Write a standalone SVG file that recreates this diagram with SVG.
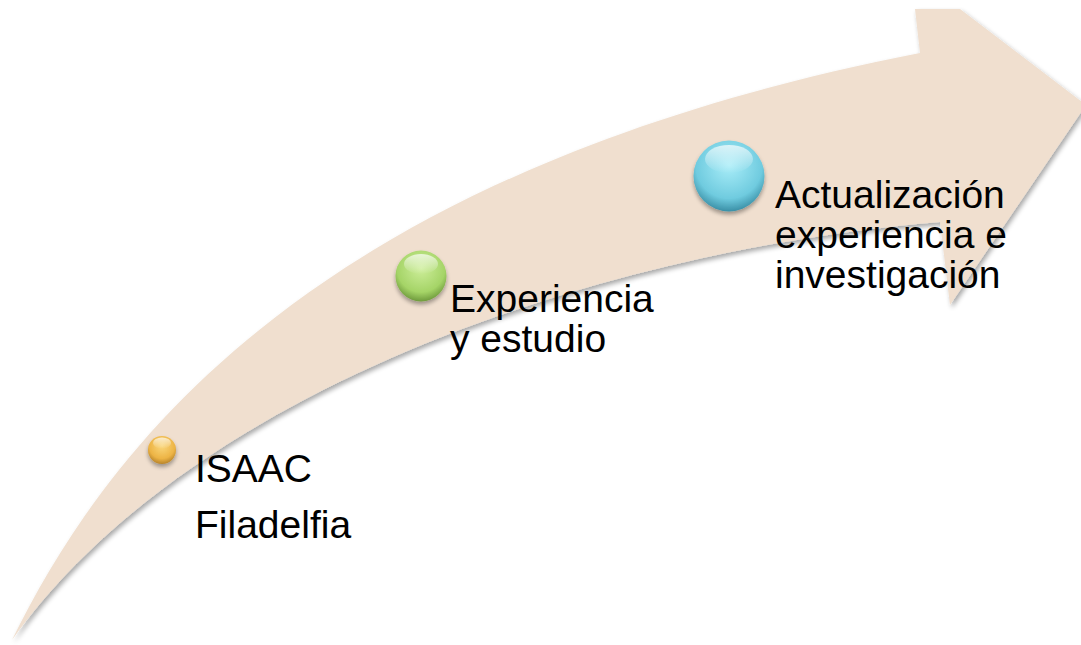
<svg xmlns="http://www.w3.org/2000/svg" width="1081" height="645" viewBox="0 0 1081 645">
  <style>
    .lbl { font-family: "Liberation Sans", Arial, sans-serif; font-size: 39px; fill: #000; }
  </style>
  <defs>
    <filter id="shadow" x="-10%" y="-10%" width="120%" height="120%">
      <feGaussianBlur in="SourceAlpha" stdDeviation="2.5"/>
      <feOffset dx="2" dy="3" result="b"/>
      <feComponentTransfer><feFuncA type="linear" slope="0.35"/></feComponentTransfer>
      <feMerge><feMergeNode/><feMergeNode in="SourceGraphic"/></feMerge>
    </filter>
    <filter id="ballShadow" x="-30%" y="-30%" width="160%" height="160%">
      <feGaussianBlur in="SourceAlpha" stdDeviation="2"/>
      <feOffset dx="0" dy="3" result="b"/>
      <feComponentTransfer><feFuncA type="linear" slope="0.35"/></feComponentTransfer>
      <feMerge><feMergeNode/><feMergeNode in="SourceGraphic"/></feMerge>
    </filter>
    <radialGradient id="gOrange" cx="50%" cy="35%" r="65%">
      <stop offset="0" stop-color="#FAD77C"/>
      <stop offset="0.7" stop-color="#EDB445"/>
      <stop offset="1" stop-color="#B8842A"/>
    </radialGradient>
    <radialGradient id="gGreen" cx="50%" cy="35%" r="65%">
      <stop offset="0" stop-color="#CDEE9A"/>
      <stop offset="0.72" stop-color="#A5D467"/>
      <stop offset="1" stop-color="#6E9A3C"/>
    </radialGradient>
    <radialGradient id="gBlue" cx="50%" cy="35%" r="65%">
      <stop offset="0" stop-color="#A9EDF8"/>
      <stop offset="0.72" stop-color="#6FCBDF"/>
      <stop offset="1" stop-color="#3A8FA6"/>
    </radialGradient>
    <linearGradient id="gloss" x1="0" y1="0" x2="0" y2="1">
      <stop offset="0" stop-color="#fff" stop-opacity="0.7"/>
      <stop offset="1" stop-color="#fff" stop-opacity="0"/>
    </linearGradient>
  </defs>

  <g id="connectors">
    <path id="arrow" filter="url(#shadow)" fill="#F0DFCF"
      d="M 12,640 C 110,440 320,170 920,53 L 915,9 L 960,9 L 1086,105 L 950,305 L 940,222 C 600,250 190,390 12,640 Z"/>
  </g>

  <g id="node-isaac">
    <g filter="url(#ballShadow)">
      <circle cx="162" cy="450" r="14" fill="url(#gOrange)"/>
      <ellipse cx="162" cy="443" rx="9" ry="5.5" fill="url(#gloss)"/>
    </g>
    <text class="lbl" x="195" y="482">ISAAC</text>
    <text class="lbl" x="195" y="538">Filadelfia</text>
  </g>

  <g id="node-experiencia">
    <g filter="url(#ballShadow)">
      <circle cx="421" cy="276" r="25.5" fill="url(#gGreen)"/>
      <ellipse cx="421" cy="264" rx="17" ry="10" fill="url(#gloss)"/>
    </g>
    <text class="lbl" x="450" y="312">Experiencia</text>
    <text class="lbl" x="450" y="352">y estudio</text>
  </g>

  <g id="node-actualizacion">
    <g filter="url(#ballShadow)">
      <circle cx="729" cy="176" r="35.5" fill="url(#gBlue)"/>
      <ellipse cx="729" cy="159" rx="24" ry="14" fill="url(#gloss)"/>
    </g>
    <text class="lbl" x="775" y="208">Actualización</text>
    <text class="lbl" x="775" y="248">experiencia e</text>
    <text class="lbl" x="775" y="288">investigación</text>
  </g>
</svg>
